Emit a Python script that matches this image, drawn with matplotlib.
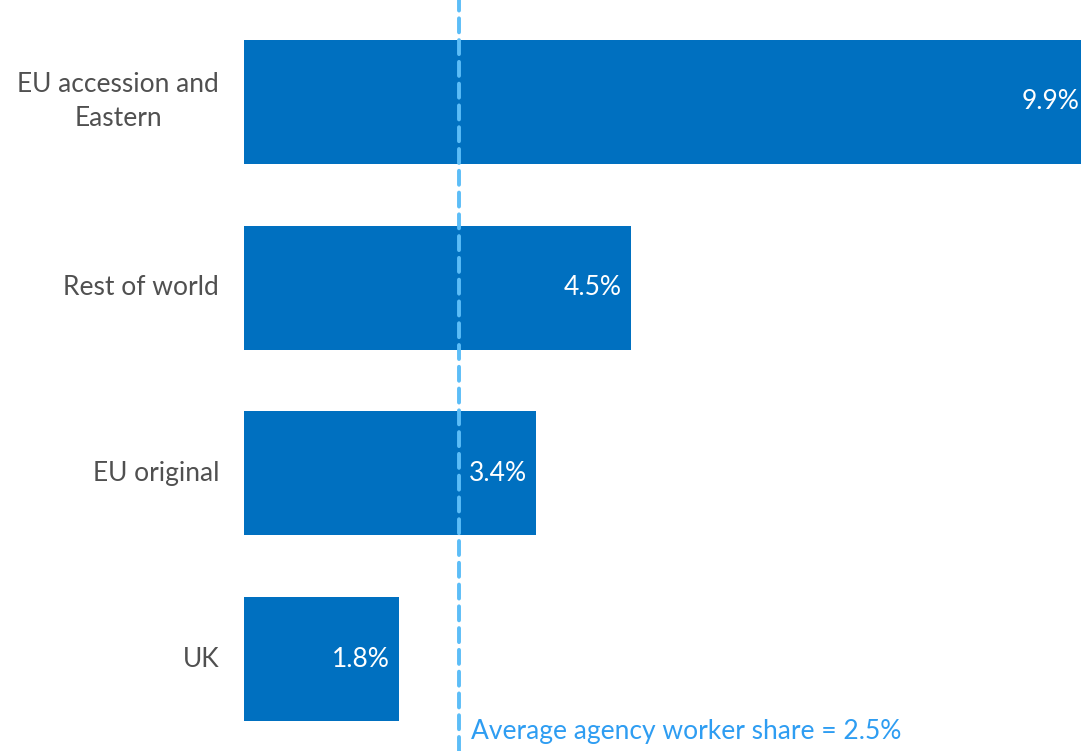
import matplotlib
matplotlib.use("Agg")
import matplotlib.pyplot as plt
from matplotlib.transforms import offset_copy

plt.rcParams['font.family'] = ['Lato', 'DejaVu Sans']

categories = ["EU accession and\nEastern", "Rest of world", "EU original", "UK"]
shares = [9.9, 4.5, 3.4, 1.8]
value_labels = ["9.9%", "4.5%", "3.4%", "1.8%"]
average_share = 2.5
average_label = "Average agency worker share = 2.5%"

bar_color = "#0070C0"
line_color = "#5CBDF7"
note_color = "#2E9DF2"
text_color = "#505050"
FS = 19

fig = plt.figure(figsize=(10.81, 7.51), dpi=100)
ax = fig.add_axes([244 / 1081, 0.0, 1 - 244 / 1081, 1.0])

y = list(range(len(categories)))
ax.barh(y, shares, height=0.668, color=bar_color, zorder=2)

xmax = 9.73
ax.set_xlim(0, xmax)
ax.set_ylim(3.495, -0.549)

# value labels, right-aligned inside each bar
for yi, v, lab in zip(y, shares, value_labels):
    xpos = min(v, xmax)
    pad = -2 if v > xmax else -9
    tr = offset_copy(ax.transData, fig=fig, x=pad, y=0, units='dots')
    ax.text(xpos, yi, lab, transform=tr, ha='right', va='center',
            color='white', fontsize=FS, zorder=4)

# category labels to the left of the bars
for yi, cat in zip(y, categories):
    tr = offset_copy(ax.transData, fig=fig, x=-25, y=0, units='dots')
    ax.text(0, yi, cat, transform=tr, ha='right', va='center',
            color=text_color, fontsize=FS, linespacing=1.45,
            multialignment='center', clip_on=False)

# average reference line
ax.axvline(average_share, color=line_color, lw=2.8, ls=(0, (3.6, 2.0)),
           dash_capstyle='round', zorder=3)
tr = offset_copy(ax.transData, fig=fig, x=12, y=0, units='dots')
ax.text(average_share, 3.39, average_label, transform=tr, ha='left',
        va='center', color=note_color, fontsize=FS)

ax.set_xticks([])
ax.set_yticks([])
for s in ax.spines.values():
    s.set_visible(False)

fig.savefig("out.png", dpi=100)
